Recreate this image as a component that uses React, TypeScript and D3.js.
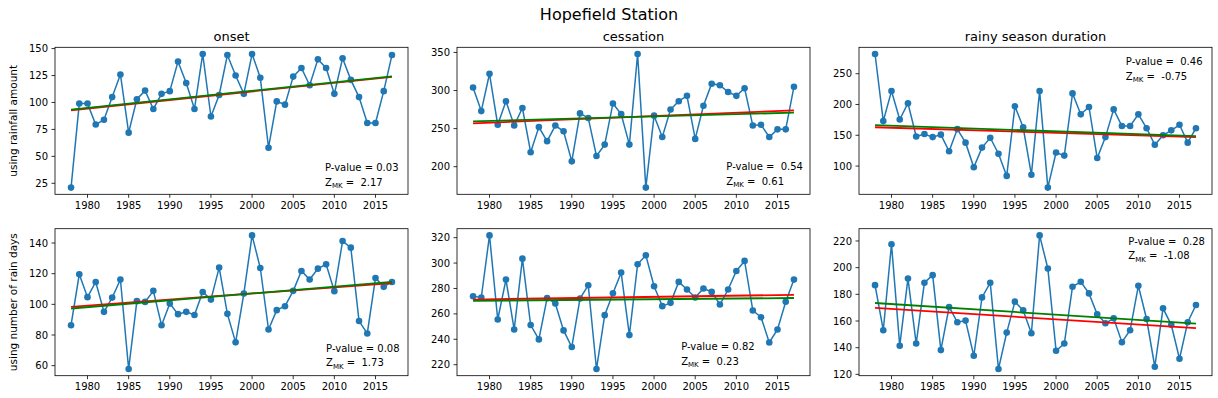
import * as d3 from "d3";

// years on the x axis
const years = [
  1978, 1979, 1980, 1981, 1982, 1983, 1984, 1985, 1986, 1987,
  1988, 1989, 1990, 1991, 1992, 1993, 1994, 1995, 1996, 1997,
  1998, 1999, 2000, 2001, 2002, 2003, 2004, 2005, 2006, 2007,
  2008, 2009, 2010, 2011, 2012, 2013, 2014, 2015, 2016, 2017,
];

// using rainfall amount
const onsetRain = [
  21, 99, 99, 79.5, 84, 105, 126, 72, 103, 111,
  94, 108, 110.5, 138, 118, 94, 145, 87, 107, 144,
  125, 108, 145, 123, 58, 101, 98, 124, 132, 116,
  140, 132, 108, 141, 121, 105, 81, 81, 110.5, 144,
];
const cessationRain = [
  304, 273, 322, 255, 286, 254, 277, 219, 252, 233.5,
  254, 246.5, 207, 270, 264, 214, 229, 283, 269, 229,
  348, 172.5, 267, 239, 275, 286, 293, 236.5, 280, 309,
  307, 298, 293, 303, 254, 255, 239, 249, 249, 305,
];
const durationRain = [
  282, 173, 222, 175.5, 202, 148, 152, 147, 151, 124,
  160, 138, 98, 130, 146, 120, 84, 197, 163, 86,
  222, 65, 122, 117, 218, 184, 196, 113, 147, 192,
  165, 165, 184, 161.5, 134.5, 150, 158, 167, 138, 161.5,
];

// using number of rain days
const onsetDays = [
  86.4, 119.6, 104.7, 114.6, 95.1, 104.4, 116.2, 57.8, 102.1, 101.6,
  108.8, 86.4, 100.5, 93.6, 95.1, 93, 108.1, 103.1, 124, 93.8,
  75.2, 107, 145, 123.7, 83.6, 96.2, 98.8, 108.8, 121.8, 116.2,
  123.3, 126.1, 108.6, 141.3, 137, 89.1, 81, 117.2, 111.4, 114.6,
];
const cessationDays = [
  273.9, 272.9, 321.8, 255.6, 287, 247.7, 303.5, 251.2, 239.9, 272.4,
  268.2, 247, 233.9, 272.1, 282.6, 216.6, 259, 276.3, 292.5, 243.3,
  299.1, 306.1, 281.8, 266.1, 268.7, 285.2, 279.2, 272.9, 280, 277.3,
  267.4, 279.2, 293.8, 301.7, 262.7, 257.4, 237.5, 247.7, 269.5, 287,
];
const durationDays = [
  186.9, 153.1, 217.5, 141.4, 191.9, 143.1, 188.7, 194.4, 138.2, 170.5,
  159.1, 160.3, 133.9, 177.7, 188.7, 124, 151.3, 174.5, 168, 150.8,
  224.2, 199.4, 137.7, 143.1, 185.7, 189.4, 180.7, 165, 158.3, 162,
  144.1, 153.1, 186.4, 161.5, 125.7, 169.5, 157.1, 131.7, 159.1, 172,
];

// trend lines, value at 1978 and at 2017
const redTrend = [
  [92.8, 123.8], [257, 274], [163, 147],
  [98.4, 113.8], [271.3, 275], [169.8, 154.6],
];
const greenTrend = [
  [93.3, 124.3], [259.6, 271], [166.5, 148.5],
  [97.3, 114.6], [270.3, 272.5], [173.5, 158],
];

const pValues = ["0.03", " 0.54", " 0.46", "0.08", "0.82", " 0.28"];
const zValues = [" 2.17", " 0.61", " -0.75", " 1.73", " 0.23", " -1.08"];

const titles = ["onset", "cessation", "rainy season duration"];
const yLabels = ["using rainfall amount", "using number of rain days"];

const xTicks = [1980, 1985, 1990, 1995, 2000, 2005, 2010, 2015];
const yTicks = [
  [25, 50, 75, 100, 125, 150],
  [200, 250, 300, 350],
  [100, 150, 200, 250],
  [60, 80, 100, 120, 140],
  [220, 240, 260, 280, 300, 320],
  [120, 140, 160, 180, 200, 220],
];

const series = [onsetRain, cessationRain, durationRain, onsetDays, cessationDays, durationDays];

// layout
const W = 1218;
const H = 398;
const colX = [55, 457, 859];
const rowY = [47.3, 228.7];
const PW = 353;
const PH = 147;
const textPos = [
  [0.765, 0.844], [0.763, 0.837], [0.756, 0.122],
  [0.768, 0.837], [0.635, 0.827], [0.763, 0.109],
];

const FONT = "'DejaVu Sans', sans-serif";
const BLUE = "#1f77b4";

function Panel({ i }: { i: number }) {
  const col = i % 3;
  const row = Math.floor(i / 3);
  const left = colX[col];
  const top = rowY[row];
  const values = series[i];

  const x = d3.scaleLinear().domain([1976.05, 2018.95]).range([left, left + PW]);
  const all = values.concat(redTrend[i], greenTrend[i]);
  const [lo, hi] = d3.extent(all) as [number, number];
  const pad = (hi - lo) * 0.05;
  const y = d3.scaleLinear().domain([lo - pad, hi + pad]).range([top + PH, top]);

  const line = d3
    .line<number>()
    .x((_, k) => x(years[k]))
    .y((d) => y(d));

  const first = years[0];
  const last = years[years.length - 1];
  const [tx, ty] = textPos[i];
  const ax = left + tx * PW;
  const ay = top + ty * PH;

  return (
    <g>
      <path d={line(values) ?? ""} fill="none" stroke={BLUE} strokeWidth={1.5} />
      {values.map((v, k) => (
        <circle key={k} cx={x(years[k])} cy={y(v)} r={3.3} fill={BLUE} />
      ))}
      <line
        x1={x(first)} x2={x(last)}
        y1={y(redTrend[i][0])} y2={y(redTrend[i][1])}
        stroke="#ff0000" strokeWidth={1.8}
      />
      <line
        x1={x(first)} x2={x(last)}
        y1={y(greenTrend[i][0])} y2={y(greenTrend[i][1])}
        stroke="#008000" strokeWidth={1.8}
      />
      <rect x={left} y={top} width={PW} height={PH} fill="none" stroke="#000" strokeWidth={0.8} />
      {xTicks.map((t) => (
        <g key={t}>
          <line x1={x(t)} x2={x(t)} y1={top + PH} y2={top + PH + 3.5} stroke="#000" strokeWidth={0.8} />
          <text x={x(t)} y={top + PH + 7} dy="0.76em" textAnchor="middle" fontSize={10} fontFamily={FONT}>
            {t}
          </text>
        </g>
      ))}
      {yTicks[i].map((t) => (
        <g key={t}>
          <line x1={left - 3.5} x2={left} y1={y(t)} y2={y(t)} stroke="#000" strokeWidth={0.8} />
          <text x={left - 7} y={y(t)} dy="0.36em" textAnchor="end" fontSize={10} fontFamily={FONT}>
            {t}
          </text>
        </g>
      ))}
      <text x={ax} y={ay} fontSize={10} fontFamily={FONT} style={{ whiteSpace: "pre" }}>
        {"P-value = " + pValues[i]}
      </text>
      <text x={ax} y={ay + 14.5} fontSize={10} fontFamily={FONT} style={{ whiteSpace: "pre" }}>
        Z
        <tspan fontSize={7} dy={2.5}>MK</tspan>
        <tspan dy={-2.5}>{" = " + zValues[i]}</tspan>
      </text>
      {row === 0 && (
        <text x={left + PW / 2} y={top - 6} textAnchor="middle" fontSize={13} fontFamily={FONT}>
          {titles[col]}
        </text>
      )}
      {col === 0 && (
        <text
          transform={`translate(17,${top + PH / 2}) rotate(-90)`}
          textAnchor="middle"
          fontSize={10.5}
          fontFamily={FONT}
        >
          {yLabels[row]}
        </text>
      )}
    </g>
  );
}

export default function App() {
  return (
    <svg
      width={W}
      height={H}
      style={{ position: "absolute", left: 0, top: 0, background: "#fff" }}
    >
      <rect width={W} height={H} fill="#fff" />
      <text x={609} y={20} textAnchor="middle" fontSize={16} fontFamily={FONT}>
        Hopefield Station
      </text>
      {series.map((_, i) => (
        <Panel key={i} i={i} />
      ))}
    </svg>
  );
}
